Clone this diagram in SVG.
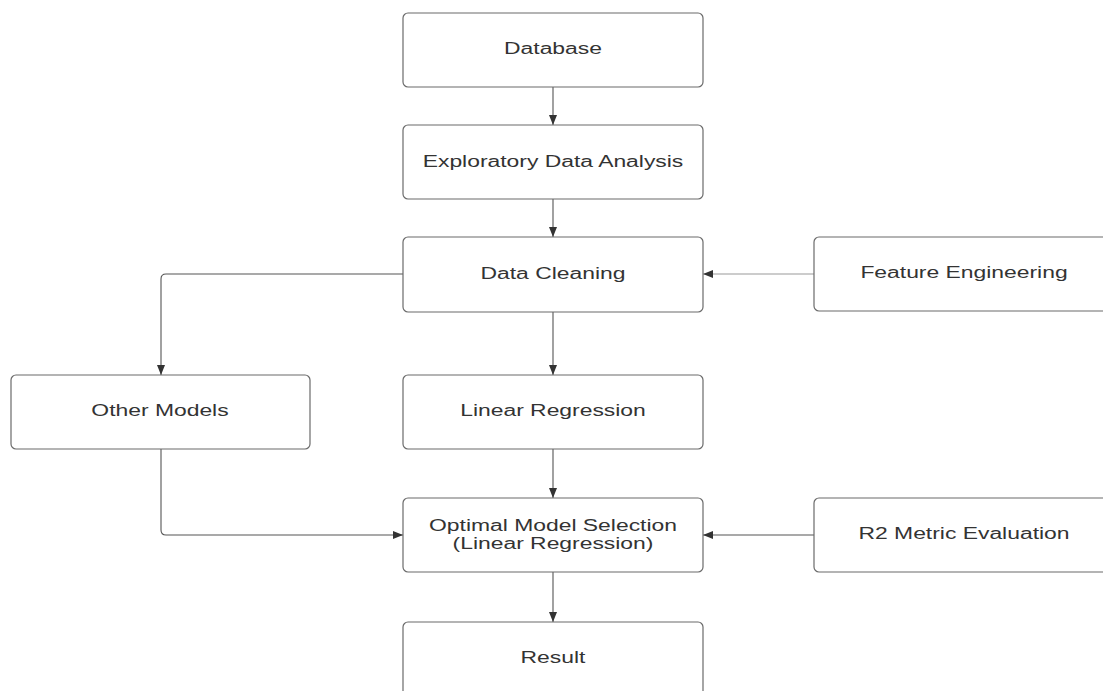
<svg xmlns="http://www.w3.org/2000/svg" width="1103" height="691" viewBox="0 0 1103 691">
<style>
.box{fill:#fff;stroke:#6b6b6b;stroke-width:1.2}
.lbl{font-family:"Liberation Sans",Arial,sans-serif;font-size:16px;fill:#333;text-anchor:middle}
.edge{fill:none;stroke:#555;stroke-width:1.1}
.light{stroke:#999}
</style>
<defs>
<marker id="arr" markerUnits="userSpaceOnUse" markerWidth="10" markerHeight="10" viewBox="0 0 10 10" refX="10" refY="5" orient="auto">
<path d="M0,1 L10,5 L0,9 Z" fill="#333"/>
</marker>
</defs>
<rect width="1103" height="691" fill="#fff"/>
<g id="connectors">
<path class="edge" d="M553,87 V125" marker-end="url(#arr)"/>
<path class="edge" d="M553,199 V237" marker-end="url(#arr)"/>
<path class="edge" d="M553,312 V375" marker-end="url(#arr)"/>
<path class="edge" d="M553,449 V498" marker-end="url(#arr)"/>
<path class="edge" d="M553,572 V622" marker-end="url(#arr)"/>
<path class="edge" d="M403,274 H166 Q161,274 161,279 V375" marker-end="url(#arr)"/>
<path class="edge" d="M161,449 V530 Q161,535 166,535 H403" marker-end="url(#arr)"/>
<path class="edge light" d="M814,274 H703" marker-end="url(#arr)"/>
<path class="edge" d="M814,535 H703" marker-end="url(#arr)"/>
</g>
<g id="database"><rect class="box" x="403" y="13" width="300" height="74" rx="5"/>
<text class="lbl" transform="translate(553,54) scale(1.43,1)">Database</text></g>
<g id="eda"><rect class="box" x="403" y="125" width="300" height="74" rx="5"/>
<text class="lbl" transform="translate(553,167) scale(1.43,1)">Exploratory Data Analysis</text></g>
<g id="cleaning"><rect class="box" x="403" y="237" width="300" height="75" rx="5"/>
<text class="lbl" transform="translate(553,279) scale(1.43,1)">Data Cleaning</text></g>
<g id="feature"><rect class="box" x="814" y="237" width="300" height="74" rx="5"/>
<text class="lbl" transform="translate(964,278) scale(1.43,1)">Feature Engineering</text></g>
<g id="other"><rect class="box" x="11" y="375" width="299" height="74" rx="5"/>
<text class="lbl" transform="translate(160,416) scale(1.43,1)">Other Models</text></g>
<g id="linear"><rect class="box" x="403" y="375" width="300" height="74" rx="5"/>
<text class="lbl" transform="translate(553,416) scale(1.43,1)">Linear Regression</text></g>
<g id="optimal"><rect class="box" x="403" y="498" width="300" height="74" rx="5"/>
<text class="lbl" transform="translate(553,531) scale(1.43,1)">Optimal Model Selection</text>
<text class="lbl" transform="translate(553,549) scale(1.43,1)">(Linear Regression)</text></g>
<g id="r2"><rect class="box" x="814" y="498" width="300" height="74" rx="5"/>
<text class="lbl" transform="translate(964,539) scale(1.43,1)">R2 Metric Evaluation</text></g>
<g id="result"><rect class="box" x="403" y="622" width="300" height="74" rx="5"/>
<text class="lbl" transform="translate(553,663) scale(1.43,1)">Result</text></g>
</svg>
